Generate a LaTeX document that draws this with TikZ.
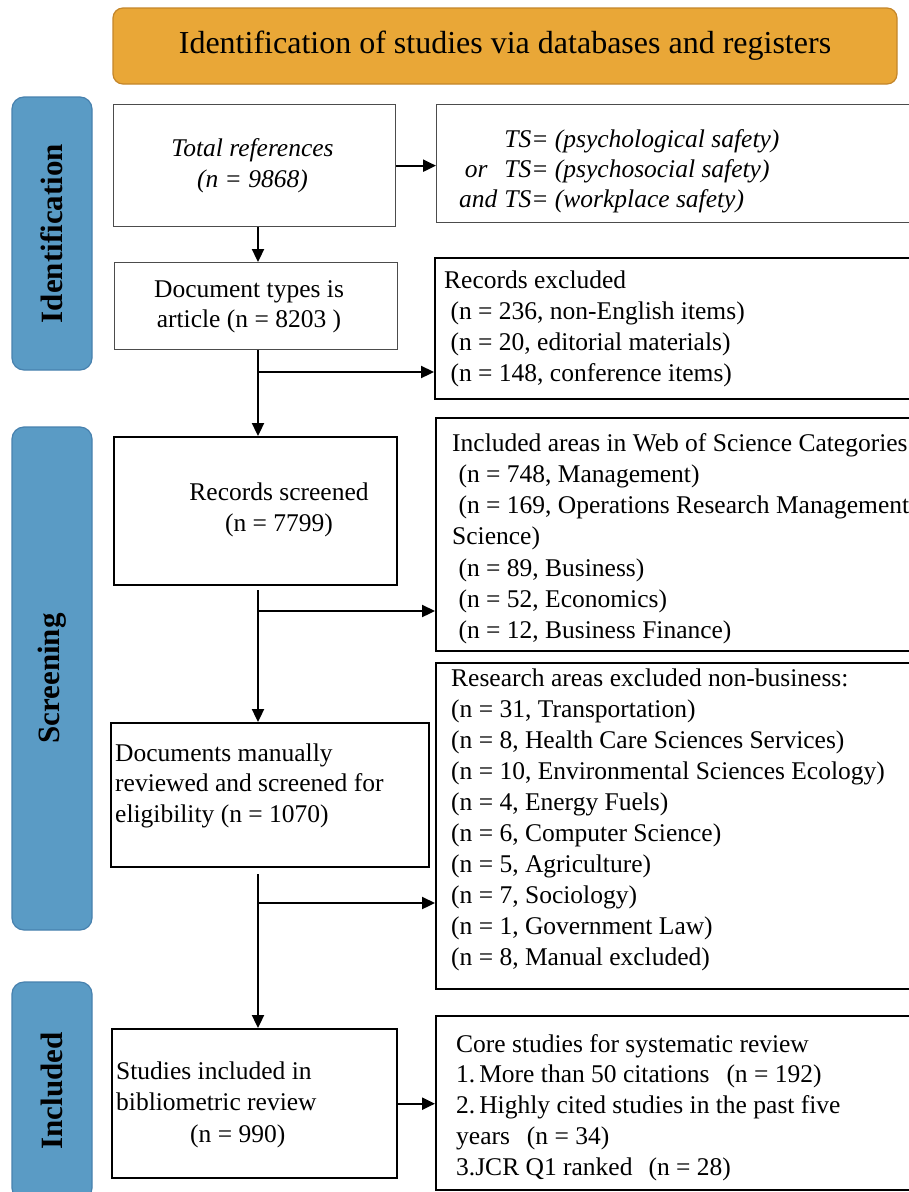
\documentclass[tikz,border=0pt]{standalone}
\usepackage{fontspec}
\setmainfont{Liberation Serif}
\usetikzlibrary{arrows.meta,positioning,calc}
\definecolor{TitleOrange}{HTML}{E9A737}
\definecolor{TitleEdge}{HTML}{C4862A}
\definecolor{StageBlue}{HTML}{5A9BC5}
\definecolor{StageEdge}{HTML}{4781AE}
\newcommand{\boxlines}[3]{\fontsize{25.5}{#1}\selectfont\begin{tabular}[t]{@{}#2@{}}#3\end{tabular}}
\tikzset{
  stagebar/.style={draw=StageEdge,fill=StageBlue,line width=1.2pt,rounded corners=12pt,
    rotate=90,inner sep=0pt,minimum height=80pt,font=\bfseries\fontsize{31}{31}\selectfont},
  thinbox/.style={draw=black!70,line width=1.3pt,anchor=north west,inner sep=0pt},
  thickbox/.style={draw=black,line width=2.4pt,anchor=north west,inner sep=0pt},
  boxtext/.style={inner sep=0pt,anchor=base west},
  arr/.style={line width=2.3pt,-{Triangle[length=13pt,width=12pt]}},
}
\begin{document}
\begin{tikzpicture}[x=1pt,y=-1pt]
  \useasboundingbox (0,0) rectangle (909,1192);
  % title and stage bars
  \node[draw=TitleEdge,fill=TitleOrange,line width=1.2pt,rounded corners=10pt,
    minimum width=784pt,minimum height=76pt,inner sep=0pt,font=\fontsize{32}{32}\selectfont]
    (title) at (505,46) {Identification of studies via databases and registers};
  \node[stagebar,minimum width=273pt] (ident) at (52,233.5) {Identification};
  \node[stagebar,minimum width=503pt] (screen) at (52,678.5) {Screening};
  \node[stagebar,minimum width=218pt] (incl) at (52,1091) {Included};

  % left column
  \node[thinbox,minimum width=282pt,minimum height=122pt] (total) at (113,104) {};
  \node[thinbox,minimum width=283pt,minimum height=87pt] (doctype) at (114,262) {};
  \node[thickbox,minimum width=283pt,minimum height=148pt] (screened) at (113,436) {};
  \node[thickbox,minimum width=318pt,minimum height=144pt] (manual) at (110,722) {};
  \node[thickbox,minimum width=285pt,minimum height=149pt] (studies) at (111,1028) {};

  % right column
  \node[thinbox,minimum width=479pt,minimum height=118pt] (ts) at (436,104) {};
  \node[thickbox,minimum width=481pt,minimum height=141pt] (excl) at (434,257) {};
  \node[thickbox,minimum width=480pt,minimum height=233pt] (areas) at (435,417) {};
  \node[thickbox,minimum width=480pt,minimum height=326pt] (nonbus) at (435,662) {};
  \node[thickbox,minimum width=480pt,minimum height=174pt] (core) at (435,1015) {};

  % texts
  \node[boxtext,anchor=base] (totaltxt) at (252.5,156)
    {\itshape\boxlines{31}{c}{Total references\\(n = 9868)}};
  \node[boxtext,anchor=base] (doctypetxt) at (249,297)
    {\boxlines{30}{c}{Document types is\\article (n = 8203 )}};
  \node[boxtext,anchor=base] (screenedtxt) at (279,500)
    {\boxlines{31}{c}{Records screened\\(n = 7799)}};
  \node[boxtext] (manualtxt) at (115,761)
    {\boxlines{30.5}{l}{Documents manually\\reviewed and screened for\\eligibility (n = 1070)}};
  \node[boxtext] (studiestxt) at (116,1079)
    {\boxlines{31.5}{l}{Studies included in\\bibliometric review\\\hspace*{74pt}(n = 990)}};
  \node[boxtext] (tstxt) at (459,147)
    {\itshape\fontsize{25.5}{30}\selectfont\begin{tabular}[t]{@{}r@{\hspace{7pt}}l@{}}
      & TS= (psychological safety)\\
      or\hspace{10pt} & TS= (psychosocial safety)\\
      and & TS= (workplace safety)\end{tabular}};
  \node[boxtext] (excltxt) at (444,288)
    {\boxlines{31}{l}{Records excluded\\
      \ (n = 236, non-English items)\\
      \ (n = 20, editorial materials)\\
      \ (n = 148, conference items)}};
  \node[boxtext] (areastxt) at (452,451)
    {\boxlines{31.3}{l}{Included areas in Web of Science Categories\\
      \ (n = 748, Management)\\
      \ (n = 169, Operations Research Management\\
      Science)\\
      \ (n = 89, Business)\\
      \ (n = 52, Economics)\\
      \ (n = 12, Business Finance)}};
  \node[boxtext] (nonbustxt) at (451,686)
    {\boxlines{31}{l}{Research areas excluded non-business:\\
      (n = 31, Transportation)\\
      (n = 8, Health Care Sciences Services)\\
      (n = 10, Environmental Sciences Ecology)\\
      (n = 4, Energy Fuels)\\
      (n = 6, Computer Science)\\
      (n = 5, Agriculture)\\
      (n = 7, Sociology)\\
      (n = 1, Government Law)\\
      (n = 8, Manual excluded)}};
  \node[boxtext] (coretxt) at (456,1052)
    {\boxlines{30.75}{l}{Core studies for systematic review\\
      1.\hspace{4pt}More than 50 citations\hspace{17pt}(n = 192)\\
      2.\hspace{4pt}Highly cited studies in the past five\\
      years\hspace{17pt}(n = 34)\\
      3.JCR Q1 ranked\hspace{16pt}(n = 28)}};

  % connectors
  \coordinate (stem) at (258,0);
  \coordinate (br1) at (258,372);
  \coordinate (br2) at (258,611);
  \coordinate (br3) at (258,903);
  \draw[arr] (total.east) -- (total.east -| ts.west);
  \draw[arr] (total.south -| stem) -- (doctype.north -| stem);
  \draw[arr] (doctype.south -| stem) -- (screened.north -| stem);
  \draw[arr] (br1) -- (br1 -| excl.west);
  \draw[arr,shorten <=4pt] (screened.south -| stem) -- (manual.north -| stem);
  \draw[arr] (br2) -- (br2 -| areas.west);
  \draw[arr,shorten <=6pt] (manual.south -| stem) -- (studies.north -| stem);
  \draw[arr] (br3) -- (br3 -| nonbus.west);
  \draw[arr] (studies.east) -- (studies.east -| core.west);
\end{tikzpicture}
\end{document}
